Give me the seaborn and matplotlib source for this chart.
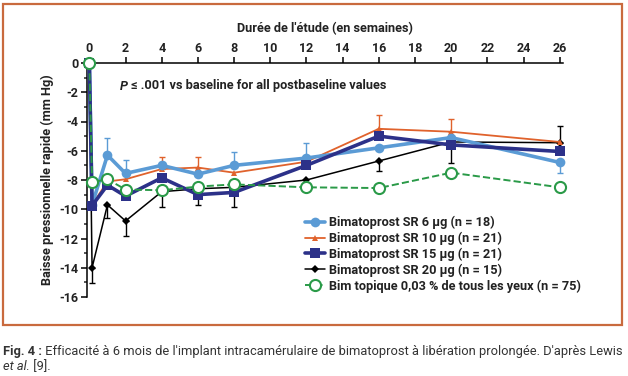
import numpy as np
import pandas as pd
import matplotlib
matplotlib.use('Agg')
import matplotlib.pyplot as plt
from matplotlib.patches import Rectangle
from matplotlib.ticker import MultipleLocator
import seaborn as sns

nan = np.nan

weeks = [0, 0.15, 1, 2, 4, 6, 8, 12, 16, 20, 26]
sr6 = [0, -9.7, -6.3, -7.55, -7.0, -7.6, -7.0, -6.5, -5.8, -5.1, -6.8]
sr10 = [0, -9.7, -8.1, -7.95, -7.25, -7.15, -7.5, -6.75, -4.5, -4.7, -5.4]
sr15 = [0, -9.75, -8.35, -9.1, -7.85, -9.0, -8.85, -7.0, -5.0, -5.6, -6.05]
sr20 = [0, -14.0, -9.7, -10.8, -8.8, -8.6, -8.5, -8.0, -6.7, -5.4, -5.45]
topical = [0, -8.15, -7.95, -8.65, -8.7, -8.45, -8.3, -8.5, -8.55, -7.5, -8.5]

# one-sided error bars (nan = not shown)
sr6_up = [nan, nan, 1.15, 0.95, nan, nan, 0.93, 1.0, nan, nan, nan]
sr6_down = [nan, nan, nan, nan, nan, nan, nan, nan, nan, nan, 0.7]
sr10_up = [nan, nan, nan, nan, 0.85, 0.7, nan, nan, 0.92, 0.9, nan]
sr20_up = [nan, nan, nan, nan, nan, nan, nan, nan, nan, nan, 1.12]
sr20_down = [nan, 1.05, 0.9, 1.0, 1.08, 1.1, 1.38, nan, 0.7, 1.42, nan]

labels = ['Bimatoprost SR 6 µg (n = 18)', 'Bimatoprost SR 10 µg (n = 21)',
          'Bimatoprost SR 15 µg (n = 21)', 'Bimatoprost SR 20 µg (n = 15)',
          'Bim topique 0,03 % de tous les yeux (n = 75)']

BLUE = '#5b9bd5'
ORANGE = '#e0622c'
NAVY = '#2c3189'
GREEN = '#2a9a48'
FRAME = '#c96a3e'
TXT = '#222222'
FONT = 'Roboto'
FS = 9.2

sns.set_style('ticks')
plt.rcParams['font.family'] = [FONT, 'DejaVu Sans']

fig = plt.figure(figsize=(6.28, 3.76), dpi=100)
ax = fig.add_axes([87 / 628, 1 - 297 / 376, (563 - 87) / 628, (297 - 63) / 376])

styles = [
    dict(color=BLUE, marker='o', markersize=7, linewidth=2.6, markeredgewidth=0, zorder=4),
    dict(color=ORANGE, marker='^', markersize=5, linewidth=1.3, markeredgewidth=0, zorder=3),
    dict(color=NAVY, marker='s', markersize=7, linewidth=2.6, markeredgewidth=0, zorder=5),
    dict(color='black', marker='D', markersize=3.8, linewidth=1.1, markeredgewidth=0, zorder=2),
    dict(color=GREEN, marker='o', markersize=8, linewidth=1.4, linestyle='--',
         markerfacecolor='white', markeredgecolor=GREEN, markeredgewidth=1.5,
         dashes=(4, 3), zorder=6),
]

for vals, lab, st in zip([sr6, sr10, sr15, sr20, topical], labels, styles):
    df = pd.DataFrame({'week': weeks, 'value': vals})
    sns.lineplot(data=df, x='week', y='value', ax=ax, label=lab, sort=False,
                 clip_on=False, **st)


def bars(vals, down, up, color, z):
    x = np.array(weeks, dtype=float)
    v = np.array(vals, dtype=float)
    d = np.array(down, dtype=float)
    u = np.array(up, dtype=float)
    m = ~np.isnan(d)
    if m.any():
        ax.errorbar(x[m], v[m], yerr=[d[m], np.zeros(m.sum())], fmt='none', ecolor=color,
                    elinewidth=1, capsize=2.5, capthick=1, zorder=z)
    m = ~np.isnan(u)
    if m.any():
        ax.errorbar(x[m], v[m], yerr=[np.zeros(m.sum()), u[m]], fmt='none', ecolor=color,
                    elinewidth=1, capsize=2.5, capthick=1, zorder=z)


bars(sr6, sr6_down, sr6_up, BLUE, 1.5)
bars(sr10, [nan] * len(weeks), sr10_up, ORANGE, 1.5)
bars(sr20, sr20_down, sr20_up, 'black', 1.5)

ax.set_xlim(-0.13, 26.18)
ax.set_ylim(-16, 0)
ax.xaxis.tick_top()
ax.xaxis.set_label_position('top')
ax.set_xticks(range(0, 27, 2))
ax.yaxis.set_major_locator(MultipleLocator(2))
ax.yaxis.set_minor_locator(MultipleLocator(1))
ax.set_yticklabels([f'{int(t)}' for t in ax.get_yticks()])
for s in ['bottom', 'right']:
    ax.spines[s].set_visible(False)
for s in ['top', 'left']:
    ax.spines[s].set_linewidth(1.1)
    ax.spines[s].set_color('black')
ax.tick_params(axis='both', which='major', length=4, width=1.1, labelsize=9, pad=2,
               colors='black', labelcolor=TXT)
ax.tick_params(axis='y', which='minor', length=2.5, width=1.1)
for t in ax.get_xticklabels() + ax.get_yticklabels():
    t.set_fontweight('bold')

ax.set_xlabel("Durée de l'étude (en semaines)", fontsize=FS, fontweight='bold',
              color=TXT, labelpad=7)
ax.set_ylabel('Baisse pressionnelle rapide (mm Hg)', fontsize=FS, fontweight='bold',
              color=TXT, labelpad=4)

leg = ax.legend(loc='upper left', bbox_to_anchor=(305 / 628, 1 - 216 / 376),
                bbox_transform=fig.transFigure, frameon=False, handlelength=1.6,
                handletextpad=0.3, labelspacing=0.2, borderpad=0, borderaxespad=0,
                prop={'family': FONT, 'weight': 'bold', 'size': FS})
for t in leg.get_texts():
    t.set_color(TXT)

fig.canvas.draw()
renderer = fig.canvas.get_renderer()


def pieces(x, y, parts, transform, size):
    # draw text parts one after another on a line
    for txt, kw in parts:
        t = fig.text(x, y, txt, transform=transform, fontsize=size, va='center', **kw)
        bb = t.get_window_extent(renderer)
        x = transform.inverted().transform((bb.x1, bb.y0))[0]


pieces(120 / 628, 1 - 86 / 376,
       [('P', dict(style='italic', fontweight='bold', color=TXT)),
        (' ≤ .001 vs baseline for all postbaseline values', dict(fontweight='bold', color=TXT))],
       fig.transFigure, FS)

pieces(3 / 628, 1 - 352 / 376,
       [('Fig. 4 :', dict(fontweight='bold', color='#333333')),
        (" Efficacité à 6 mois de l'implant intracamérulaire de bimatoprost à libération prolongée. D'après Lewis",
         dict(color='#333333'))],
       fig.transFigure, 9.3)
pieces(3 / 628, 1 - 367 / 376,
       [('et al.', dict(style='italic', color='#333333')),
        (' [9].', dict(color='#333333'))],
       fig.transFigure, 9.3)

fig.patches.append(Rectangle((3 / 628, 1 - 325 / 376), 619 / 628, 321 / 376,
                             transform=fig.transFigure, fill=False, edgecolor=FRAME,
                             linewidth=1.6))

fig.savefig('out.png', dpi=100)
